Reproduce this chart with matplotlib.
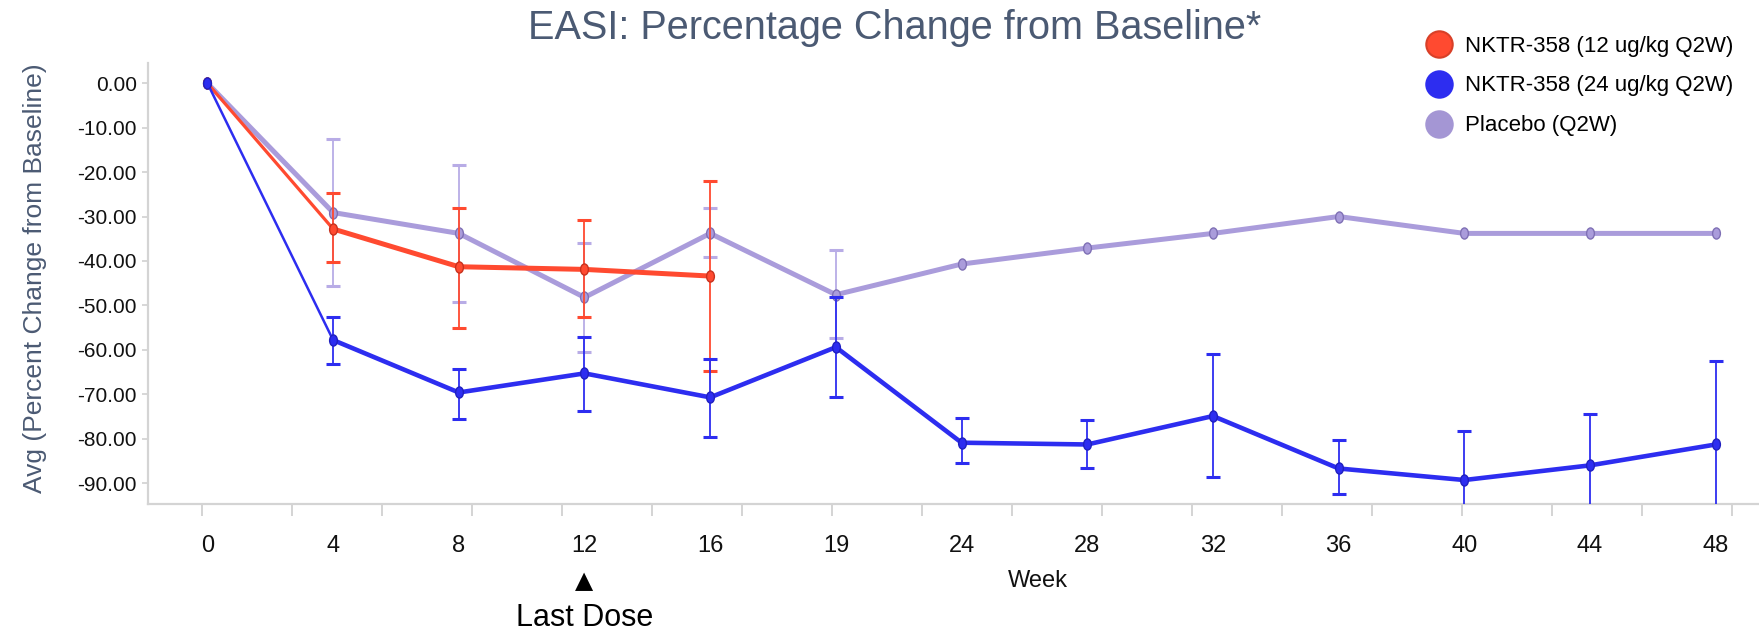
import numpy as np
import matplotlib
matplotlib.use("Agg")
import matplotlib.pyplot as plt
from matplotlib import font_manager
from matplotlib.path import Path
from matplotlib.transforms import Affine2D, blended_transform_factory
from matplotlib.lines import Line2D

# week labels along the x axis (points are evenly spaced, one per visit)
weeks = ['0', '4', '8', '12', '16', '19', '24', '28', '32', '36', '40', '44', '48']

# NKTR-358 12 ug/kg: mean and error bar ends (visits 0-16)
red_mean = [0, -32.8, -41.3, -41.9, -43.4]
red_hi = [0, -24.8, -28.0, -30.7, -22.1]
red_lo = [0, -40.2, -55.1, -52.5, -64.7]

# NKTR-358 24 ug/kg
blue_mean = [0, -57.8, -69.6, -65.3, -70.7, -59.4, -80.9, -81.3, -74.9, -86.7, -89.3, -86.0, -81.3]
blue_hi = [0, -52.5, -64.3, -57.2, -62.1, -48.1, -75.4, -75.9, -61.0, -80.3, -78.2, -74.4, -62.6]
blue_lo = [0, -63.2, -75.5, -73.8, -79.7, -70.7, -85.5, -86.6, -88.7, -92.5, -100.4, -97.6, -100.0]

# Placebo (error bars only up to week 19)
plac_mean = [0, -29.1, -33.8, -48.2, -33.8, -47.6, -40.7, -37.1, -33.8, -30.0, -33.8, -33.8, -33.8]
plac_hi = [0, -12.5, -18.4, -35.9, -28.0, -37.6]
plac_lo = [0, -45.6, -49.3, -60.5, -39.2, -57.3]

y_ticks = [0, -10, -20, -30, -40, -50, -60, -70, -80, -90]
legend_labels = ['NKTR-358 (12 ug/kg Q2W)', 'NKTR-358 (24 ug/kg Q2W)', 'Placebo (Q2W)']

names = {f.name for f in font_manager.fontManager.ttflist}
narrow = 'Liberation Sans Narrow' if 'Liberation Sans Narrow' in names else 'Liberation Sans'
plt.rcParams['font.family'] = ['Liberation Sans', 'DejaVu Sans']

slate = '#4B5A73'
spine = '#D4D4D4'

fig = plt.figure(figsize=(17.59, 6.34), dpi=100)
ax = fig.add_axes([0.0844, 0.2043, 0.9156, 0.6967])

pos = np.arange(len(weeks))
ellipse = Path.unit_circle().transformed(Affine2D().scale(0.7, 1.0))


def draw_series(mean, hi, lo, color, edge, ecolor, lw, lw0, z):
    mean = np.array(mean)
    x = pos[:len(mean)]
    n = len(hi)
    ax.errorbar(x[1:n], mean[1:n],
                yerr=[mean[1:n] - np.array(lo[1:]), np.array(hi[1:]) - mean[1:n]],
                fmt='none', ecolor=ecolor, elinewidth=1.3, capsize=5, capthick=2.2, zorder=z)
    ax.plot(x[:2], mean[:2], color=color, lw=lw0, solid_capstyle='round', zorder=z + 0.1)
    ax.plot(x[1:], mean[1:], color=color, lw=lw, solid_joinstyle='round', zorder=z + 0.1)
    ax.plot(x, mean, ls='none', marker=ellipse, ms=8, mfc=color, mec=edge, mew=1.0, zorder=z + 0.2)


draw_series(plac_mean, plac_hi, plac_lo, '#AA9CDB', '#7F70B5', '#B8ACE6', 3.6, 3.6, 2)
draw_series(red_mean, red_hi, red_lo, '#FF4A30', '#C8321E', '#FF4A30', 3.6, 2.3, 3)
draw_series(blue_mean, blue_hi, blue_lo, '#2D2DF0', '#2020C0', '#2D2DF0', 3.3, 1.8, 4)

ax.set_xlim(-0.469, 12.344)
ax.set_ylim(-94.8, 4.6)

for s in ['top', 'right']:
    ax.spines[s].set_visible(False)
for s in ['left', 'bottom']:
    ax.spines[s].set_color(spine)
    ax.spines[s].set_linewidth(1.6)

ax.set_yticks(y_ticks)
ax.set_yticklabels([f"{v:.2f}" for v in y_ticks], fontfamily=narrow, fontsize=15, color='#111111')
ax.tick_params(axis='y', length=4.5, width=1.3, color=spine, pad=4)

ax.set_xticks(pos)
ax.set_xticklabels(weeks, fontfamily=narrow, fontsize=17, color='#111111')
ax.tick_params(axis='x', which='major', length=0, pad=22)
ax.set_xticks(np.arange(-0.045, 12.3, 0.716), minor=True)
ax.tick_params(axis='x', which='minor', length=8.6, width=1.4, color=spine)

ax.set_ylabel('Avg (Percent Change from Baseline)', fontsize=19, color=slate)
ax.yaxis.set_label_coords(-0.063, 0.513)

fig.text(895 / 1759, 0.956, 'EASI: Percentage Change from Baseline*', ha='center', va='center',
         fontsize=28.5, color=slate)

trans = blended_transform_factory(ax.transData, fig.transFigure)
ax.text(3, 1 - 581 / 634, '\u25B2', transform=trans, ha='center', va='center',
        fontfamily='DejaVu Sans', fontsize=17, color='black')
ax.text(3, 1 - 618 / 634, 'Last Dose', transform=trans, ha='center', va='center',
        fontsize=22, color='black')
fig.text(1038 / 1759, 1 - 581 / 634, 'Week', ha='center', va='center',
         fontfamily=narrow, fontsize=17, color='#111111')

handles = [Line2D([], [], ls='none', marker='o', ms=19, mfc=c, mec=e, mew=1.5)
           for c, e in [('#FF4A30', '#D84028'), ('#2D2DF0', '#2D2DF0'), ('#A496D4', '#A496D4')]]
fig.legend(handles, legend_labels, loc='upper left', bbox_to_anchor=(1428 / 1759, 0.944),
           frameon=False, fontsize=16, handlelength=1.0, handletextpad=0.65,
           labelspacing=0.85, borderpad=0, borderaxespad=0)

fig.savefig('out.png', dpi=100)
